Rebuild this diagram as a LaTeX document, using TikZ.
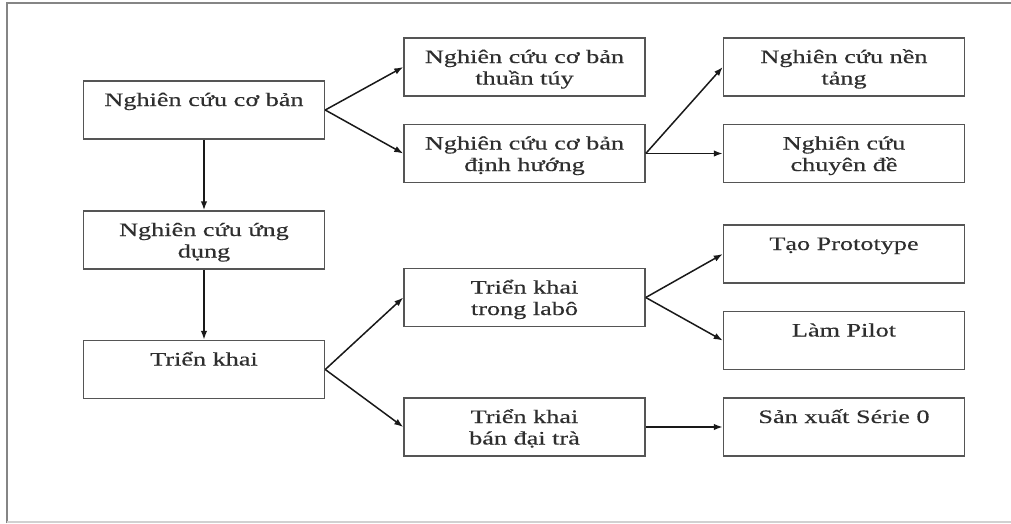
\documentclass[tikz,border=0pt]{standalone}
\usepackage{fontspec}
\setmainfont[FakeStretch=1.38,FakeBold=0.4]{Liberation Serif}
\usetikzlibrary{arrows.meta}
\definecolor{boxgray}{HTML}{555555}
\definecolor{framegray}{HTML}{858585}
\definecolor{txtgray}{HTML}{2e2e2e}
\newcommand{\bxt}[1]{\parbox[c][58pt][t]{241pt}{\centering\rule{0pt}{25pt}#1}}
\tikzset{
  box/.style={draw=boxgray, line width=1.5pt, inner sep=0pt, minimum width=241pt, minimum height=58pt,
    font=\fontsize{19}{21.5}\selectfont, text=txtgray},
  conn/.style={draw=black!90, line width=1.5pt, -{Latex[length=9pt,width=6.5pt]}}
}
\begin{document}
\begin{tikzpicture}[x=1pt,y=-1pt]
\useasboundingbox (0,0) rectangle (1011,523);
% frame
\draw[framegray, line width=2pt] (7,523) -- (7,3) -- (1011,3);
\draw[black!18, line width=1.5pt] (7,522) -- (1011,522);
% boxes
\node[box] (a) at (204,110) {\bxt{Nghiên cứu cơ bản}};
\node[box] (b) at (524.5,67) {\bxt{Nghiên cứu cơ bản\\thuần túy}};
\node[box] (c) at (524.5,153.5) {\bxt{Nghiên cứu cơ bản\\định hướng}};
\node[box] (d) at (844,67) {\bxt{Nghiên cứu nền\\tảng}};
\node[box] (e) at (844,153.5) {\bxt{Nghiên cứu\\chuyên đề}};
\node[box] (f) at (204,240) {\bxt{Nghiên cứu ứng\\dụng}};
\node[box] (g) at (204,369.5) {\bxt{Triển khai}};
\node[box] (h) at (524.5,297.5) {\bxt{Triển khai\\trong labô}};
\node[box] (i) at (524.5,427) {\bxt{Triển khai\\bán đại trà}};
\node[box] (j) at (844,254) {\bxt{Tạo Prototype}};
\node[box] (k) at (844,340.5) {\bxt{Làm Pilot}};
\node[box] (l) at (844,427) {\bxt{Sản xuất Série 0}};
% connectors
\draw[conn] (a.east) -- (b.west);
\draw[conn] (a.east) -- (c.west);
\draw[conn] (c.east) -- (d.west);
\draw[conn] (c.east) -- (e.west);
\draw[conn] (a.south) -- (f.north);
\draw[conn] (f.south) -- (g.north);
\draw[conn] (g.east) -- (h.west);
\draw[conn] (g.east) -- (i.west);
\draw[conn] (h.east) -- (j.west);
\draw[conn] (h.east) -- (k.west);
\draw[conn] (i.east) -- (l.west);
\end{tikzpicture}
\end{document}
